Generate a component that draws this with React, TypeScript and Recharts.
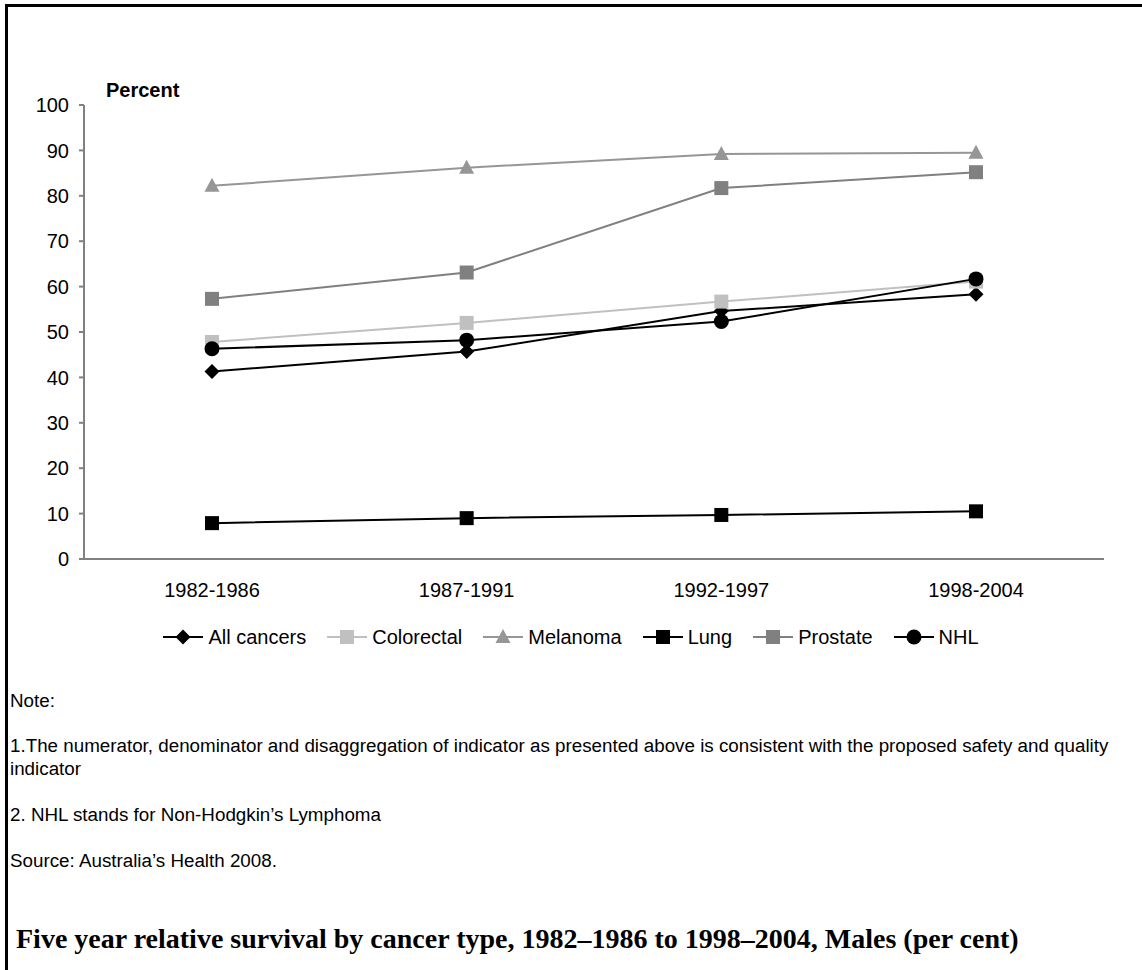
import React from 'react';
import { LineChart, Line, XAxis, YAxis, Legend } from 'recharts';

const periods = ['1982-1986', '1987-1991', '1992-1997', '1998-2004'];
const allCancers = [41.3, 45.7, 54.6, 58.3];
const colorectal = [47.8, 52.0, 56.7, 61.1];
const melanoma = [82.2, 86.2, 89.2, 89.5];
const lung = [7.9, 9.0, 9.7, 10.5];
const prostate = [57.3, 63.1, 81.7, 85.2];
const nhl = [46.3, 48.2, 52.3, 61.7];
const yTicks = [0, 10, 20, 30, 40, 50, 60, 70, 80, 90, 100];

const series = [
  { key: 'allCancers', name: 'All cancers', values: allCancers, color: '#000000', marker: 'diamond' },
  { key: 'colorectal', name: 'Colorectal', values: colorectal, color: '#c0c0c0', marker: 'square' },
  { key: 'melanoma', name: 'Melanoma', values: melanoma, color: '#969696', marker: 'triangle' },
  { key: 'lung', name: 'Lung', values: lung, color: '#000000', marker: 'square' },
  { key: 'prostate', name: 'Prostate', values: prostate, color: '#808080', marker: 'square' },
  { key: 'nhl', name: 'NHL', values: nhl, color: '#000000', marker: 'circle' },
];

const data = periods.map((period, i) => {
  const row: Record<string, string | number> = { period };
  series.forEach((s) => {
    row[s.key] = s.values[i];
  });
  return row;
});

const sans = '"Liberation Sans", Arial, sans-serif';

function Marker({ type, cx, cy, color }: { type: string; cx: number; cy: number; color: string }) {
  if (type === 'circle') return <circle cx={cx} cy={cy} r={7.5} fill={color} />;
  if (type === 'diamond')
    return <path d={`M${cx},${cy - 7.5}L${cx + 7.5},${cy}L${cx},${cy + 7.5}L${cx - 7.5},${cy}Z`} fill={color} />;
  if (type === 'triangle')
    return <path d={`M${cx},${cy - 8}L${cx + 7.5},${cy + 6}L${cx - 7.5},${cy + 6}Z`} fill={color} />;
  return <rect x={cx - 7} y={cy - 7} width={14} height={14} fill={color} />;
}

const renderLegend = () => (
  <div
    style={{
      display: 'flex',
      justifyContent: 'center',
      alignItems: 'center',
      fontFamily: sans,
      fontSize: 20,
      color: '#000',
      height: 30,
    }}
  >
    {series.map((s, i) => (
      <div key={s.key} style={{ display: 'flex', alignItems: 'center', marginRight: i < series.length - 1 ? 21 : 0 }}>
        <svg width={40} height={16}>
          <line x1={0} y1={8} x2={40} y2={8} stroke={s.color} strokeWidth={2} />
          <Marker type={s.marker} cx={20} cy={8} color={s.color} />
        </svg>
        <span style={{ marginLeft: 5 }}>{s.name}</span>
      </div>
    ))}
  </div>
);

const noteStyle: React.CSSProperties = {
  position: 'absolute',
  left: 10,
  fontFamily: sans,
  fontSize: 18.8,
  lineHeight: 1,
  color: '#000',
  whiteSpace: 'nowrap',
};

export default function App() {
  return (
    <div style={{ position: 'absolute', left: 0, top: 0, width: 1142, height: 970, background: '#fff', overflow: 'hidden' }}>
      {/* page frame: top and left rules only */}
      <div
        style={{
          position: 'absolute',
          left: 5,
          top: 4,
          width: 1140,
          height: 970,
          borderTop: '3px solid #000',
          borderLeft: '3px solid #000',
        }}
      />
      <div
        style={{
          position: 'absolute',
          left: 106,
          top: 80,
          fontFamily: sans,
          fontSize: 20,
          lineHeight: 1,
          fontWeight: 'bold',
        }}
      >
        Percent
      </div>
      <div style={{ position: 'absolute', left: 0, top: 0 }}>
        <LineChart width={1142} height={680} data={data} margin={{ top: 105, right: 38, left: 0, bottom: 28 }}>
          <XAxis
            dataKey="period"
            height={63}
            padding={{ left: 128, right: 128 }}
            tickLine={false}
            tickSize={0}
            tickMargin={24}
            axisLine={{ stroke: '#808080', strokeWidth: 2 }}
            tick={{ fill: '#000', fontSize: 20, fontFamily: sans }}
          />
          <YAxis
            width={84}
            domain={[0, 100]}
            ticks={yTicks}
            interval={0}
            tickSize={5}
            tickMargin={10}
            axisLine={{ stroke: '#808080', strokeWidth: 2 }}
            tickLine={{ stroke: '#808080', strokeWidth: 2 }}
            tick={{ fill: '#000', fontSize: 20, fontFamily: sans }}
          />
          <Legend verticalAlign="bottom" height={30} content={renderLegend} wrapperStyle={{ left: 0, width: 1142 }} />
          {series.map((s) => (
            <Line
              key={s.key}
              dataKey={s.key}
              name={s.name}
              stroke={s.color}
              strokeWidth={2}
              isAnimationActive={false}
              dot={(p: any) => <Marker key={`${s.key}-${p.index}`} type={s.marker} cx={p.cx} cy={p.cy} color={s.color} />}
              activeDot={false}
            />
          ))}
        </LineChart>
      </div>
      <div style={{ ...noteStyle, top: 692 }}>Note:</div>
      <div style={{ ...noteStyle, top: 737 }}>
        1.The numerator, denominator and disaggregation of indicator as presented above is consistent with the proposed safety and quality
      </div>
      <div style={{ ...noteStyle, top: 760 }}>indicator</div>
      <div style={{ ...noteStyle, top: 806 }}>2. NHL stands for Non-Hodgkin’s Lymphoma</div>
      <div style={{ ...noteStyle, top: 852 }}>Source: Australia’s Health 2008.</div>
      <div
        style={{
          position: 'absolute',
          left: 16,
          top: 925,
          fontFamily: '"Liberation Serif", "DejaVu Serif", serif',
          fontSize: 28,
          lineHeight: 1,
          fontWeight: 'bold',
          color: '#000',
          whiteSpace: 'nowrap',
        }}
      >
        Five year relative survival by cancer type, 1982–1986 to 1998–2004, Males (per cent)
      </div>
    </div>
  );
}
